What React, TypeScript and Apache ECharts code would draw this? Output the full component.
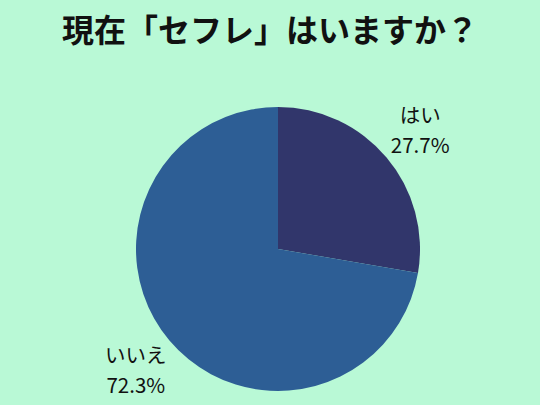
import React, { useEffect, useRef } from "react";
import * as echarts from "echarts";

const titleText = "現在「セフレ」はいますか？";
const categories = ["はい", "いいえ"];
const values = [27.7, 72.3];
const colors = ["#31366b", "#2d5e95"];

export default function App() {
  const ref = useRef<HTMLDivElement>(null);
  useEffect(() => {
    if (!ref.current) return;
    const chart = echarts.init(ref.current, null, { renderer: "svg" });
    chart.setOption({
      animation: false,
      backgroundColor: "#b9f9d6",
      title: {
        text: titleText,
        left: "center",
        top: 7,
        textStyle: {
          fontFamily: "Noto Sans CJK JP",
          fontSize: 32,
          fontWeight: "bold",
          color: "#111111",
        },
      },
      series: [
        {
          type: "pie",
          center: [278, 249],
          radius: 142,
          startAngle: 90,
          clockwise: true,
          avoidLabelOverlap: false,
          data: categories.map((c, i) => ({
            name: c,
            value: values[i],
            itemStyle: { color: colors[i] },
          })),
          label: {
            show: true,
            position: "outside",
            formatter: (p: any) => `${p.name}\n${p.value.toFixed(1)}%`,
            fontFamily: "Noto Sans CJK JP",
            fontSize: 20.5,
            lineHeight: 30,
            color: "#111111",
            distanceToLabelLine: 0,
          },
          labelLine: { show: false, length: 44, length2: 0 },
          labelLayout: () => ({ align: "center" }),
          emphasis: { disabled: true },
        },
      ],
    });
    return () => chart.dispose();
  }, []);
  return (
    <div
      ref={ref}
      style={{ position: "fixed", left: 0, top: 0, width: 540, height: 405 }}
    />
  );
}
